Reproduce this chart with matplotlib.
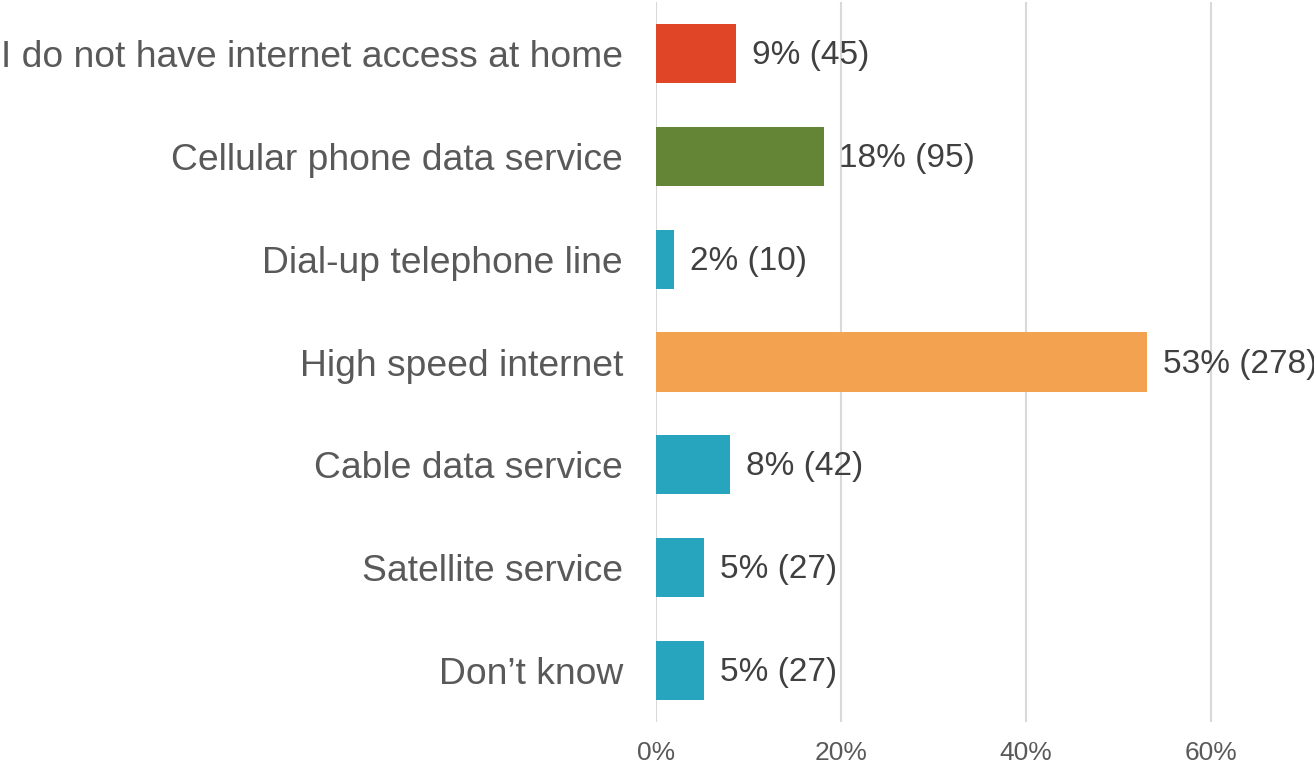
import matplotlib
matplotlib.use("Agg")
import matplotlib.pyplot as plt
from matplotlib.ticker import FuncFormatter

# --- Data (top to bottom) ---
categories = ["I do not have internet access at home",
              "Cellular phone data service",
              "Dial-up telephone line",
              "High speed internet",
              "Cable data service",
              "Satellite service",
              "Don\u2019t know"]
percent = [8.6, 18.1, 1.9, 53.1, 8.0, 5.2, 5.2]
counts = [45, 95, 10, 278, 42, 27, 27]
bar_colors = ["#E04527", "#648535", "#28A5BE", "#F3A250",
              "#28A5BE", "#28A5BE", "#28A5BE"]
x_ticks = [0, 20, 40, 60]

plt.rcParams['font.family'] = ['Liberation Sans', 'DejaVu Sans']

fig = plt.figure(figsize=(13.14, 7.67), dpi=100)
ax = fig.add_axes([656 / 1314, 1 - 722 / 767, 1 - 656 / 1314, 720 / 767])

y = range(len(categories))
ax.barh(y, percent, height=0.575, color=bar_colors, zorder=3)

# --- data labels ---
for i, (p, n) in enumerate(zip(percent, counts)):
    ax.annotate(f"{round(p)}% ({n})", xy=(p, i), xytext=(11.5, -1.5),
                textcoords="offset points", va="center", ha="left",
                fontsize=24, color="#404040", zorder=4, annotation_clip=False)

ax.set_xlim(0, 71.1)
ax.set_ylim(len(categories) - 0.5, -0.5)
ax.set_yticks(list(y))
ax.set_yticklabels(categories, fontsize=26.8, color="#595959")
ax.set_xticks(x_ticks)
ax.xaxis.set_major_formatter(FuncFormatter(lambda v, _: f"{v:.0f}%"))
ax.tick_params(axis="x", labelsize=19, colors="#595959", length=0, pad=14)
ax.tick_params(axis="y", length=0, pad=23.8)

ax.grid(axis="x", color="#D9D9D9", linewidth=1.5, zorder=0)
for s in ax.spines.values():
    s.set_visible(False)

fig.savefig("out.png", dpi=100)
